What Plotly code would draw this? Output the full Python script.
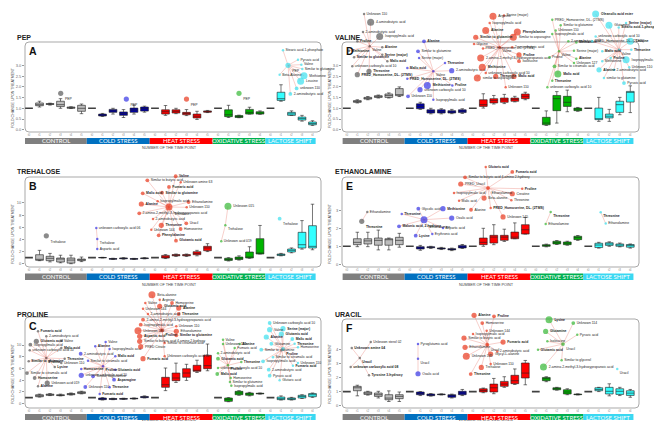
import plotly.graph_objects as go

# ---------------------------------------------------------------- data
CONDITIONS = ["CONTROL", "COLD STRESS", "HEAT STRESS", "OXIDATIVE STRESS", "LACTOSE SHIFT"]
N_PER_COND = [6, 6, 6, 5, 5]
TIME_LABELS = ["t0", "t1", "t2", "t3", "t4", "t5",
               "t0", "t1", "t2", "t3", "t4", "t5",
               "t0", "t1", "t2", "t3", "t4", "t5",
               "t0", "t1", "t2", "t3", "t4",
               "t0", "t1", "t2", "t3", "t4"]

# box statistics (lower whisker, q1, median, q3, upper whisker) per time point
A_LO = [1, 1.06, 1.15, 1.0, 0.99, 0.75, 1, 0.62, 0.73, 0.57, 0.73, 0.82, 1, 0.67, 0.75, 0.66, 0.48, 0.80, 1, 0.57, 0.56, 0.73, 0.72, 1, 1.33, 0.67, 0.40, 0.20]
A_Q1 = [1, 1.12, 1.18, 1.08, 1.0, 0.86, 1, 0.64, 0.81, 0.67, 0.81, 0.87, 1, 0.73, 0.78, 0.70, 0.55, 0.82, 1, 0.61, 0.57, 0.73, 0.73, 1, 1.37, 0.67, 0.45, 0.23]
A_MED = [1, 1.17, 1.20, 1.17, 1.03, 1.0, 1, 0.68, 0.88, 0.75, 0.92, 0.98, 1, 0.84, 0.86, 0.76, 0.63, 0.84, 1, 0.70, 0.62, 0.81, 0.78, 1, 1.45, 0.74, 0.52, 0.29]
A_Q3 = [1, 1.25, 1.22, 1.33, 1.06, 1.14, 1, 0.73, 0.95, 0.83, 1.01, 1.06, 1, 0.93, 0.93, 0.81, 0.73, 0.88, 1, 0.93, 0.66, 0.95, 0.84, 1, 1.75, 0.81, 0.59, 0.36]
A_HI = [1, 1.33, 1.24, 1.45, 1.07, 1.20, 1, 0.76, 1.0, 0.94, 1.15, 1.10, 1, 1.13, 1.0, 0.94, 0.86, 0.90, 1, 1.14, 0.68, 1.05, 0.88, 1, 2.10, 0.88, 0.67, 0.42]

B_LO = [1, 0.5, 0.3, 0.15, 0.0, 0.35, 1, 0.95, 0.7, 0.75, 0.7, 0.8, 1, 0.85, 1.2, 1.2, 1.3, 2.0, 1, 0.45, 0.6, 0.9, 1.6, 1, 1.3, 1.8, 2.4, 2.3]
B_Q1 = [1, 0.56, 0.5, 0.28, 0.1, 0.5, 1, 0.98, 0.75, 0.82, 0.75, 0.85, 1, 0.93, 1.3, 1.3, 1.48, 2.14, 1, 0.55, 0.7, 0.94, 1.6, 1, 1.35, 1.93, 2.59, 2.59]
B_MED = [1, 0.66, 0.89, 0.77, 0.6, 0.65, 1, 1.0, 0.8, 0.88, 0.8, 0.9, 1, 1.1, 1.4, 1.4, 1.7, 2.6, 1, 0.7, 0.9, 1.05, 1.7, 1, 1.5, 2.2, 3.13, 2.86]
B_Q3 = [1, 1.48, 1.22, 0.94, 0.94, 0.77, 1, 1.03, 0.85, 0.95, 0.84, 0.95, 1, 1.37, 1.5, 1.5, 1.98, 2.87, 1, 0.9, 1.1, 1.93, 4.12, 1, 1.6, 2.42, 5.17, 6.26]
B_HI = [1, 2.2, 1.7, 1.4, 1.4, 1.1, 1, 1.05, 0.9, 1.0, 0.88, 1.0, 1, 1.5, 1.6, 1.6, 2.2, 3.3, 1, 1.0, 1.3, 2.8, 6.3, 1, 1.7, 2.6, 7.1, 9.8]

C_LO = [1, 1.1, 1.35, 1.3, 1.45, 1.65, 1, 0.6, 0.65, 0.7, 0.75, 0.95, 1, 2.2, 3.6, 3.95, 5.3, 5.6, 1, 0.3, 1.4, 1.3, 1.6, 1, 0.6, 0.6, 0.85, 1.05]
C_Q1 = [1, 1.16, 1.4, 1.35, 1.5, 1.7, 1, 0.66, 0.7, 0.74, 0.8, 1.0, 1, 2.77, 3.9, 4.48, 5.5, 5.95, 1, 0.37, 1.5, 1.4, 1.65, 1, 0.66, 0.66, 0.94, 1.16]
C_MED = [1, 1.33, 1.5, 1.4, 1.6, 1.9, 1, 0.8, 0.78, 0.8, 0.85, 1.1, 1, 3.2, 4.36, 5.21, 5.6, 6.47, 1, 0.7, 1.8, 1.65, 1.7, 1, 0.8, 0.8, 1.2, 1.5]
C_Q3 = [1, 1.5, 1.6, 1.5, 1.7, 2.0, 1, 0.94, 0.85, 0.86, 0.9, 1.2, 1, 4.48, 5.21, 5.95, 6.53, 8.24, 1, 0.94, 2.08, 1.8, 1.75, 1, 1.1, 0.95, 1.4, 1.7]
C_HI = [1, 1.6, 1.7, 1.6, 1.8, 2.1, 1, 1.0, 0.9, 0.9, 0.95, 1.3, 1, 6.07, 6.9, 6.7, 7.4, 10.17, 1, 1.0, 2.2, 1.9, 1.8, 1, 1.3, 1.05, 1.5, 1.8]

D_LO = [1, 1.25, 1.40, 1.48, 1.48, 1.55, 1, 0.95, 0.74, 0.74, 0.75, 0.76, 1, 1.01, 1.20, 1.22, 1.30, 1.40, 1, 0.20, 0.31, 0.84, 0.86, 1, 0.39, 0.39, 0.70, 0.80]
D_Q1 = [1, 1.28, 1.43, 1.51, 1.51, 1.59, 1, 0.98, 0.78, 0.78, 0.78, 0.80, 1, 1.09, 1.25, 1.28, 1.33, 1.45, 1, 0.23, 0.89, 1.09, 0.89, 1, 0.47, 0.55, 0.81, 1.29]
D_MED = [1, 1.30, 1.47, 1.54, 1.60, 1.64, 1, 1.09, 0.86, 0.84, 0.83, 0.87, 1, 1.17, 1.36, 1.39, 1.42, 1.56, 1, 0.31, 1.45, 1.28, 0.96, 1, 0.50, 0.63, 1.17, 1.75]
D_Q3 = [1, 1.36, 1.51, 1.59, 1.67, 1.92, 1, 1.21, 0.93, 0.93, 0.89, 0.93, 1, 1.40, 1.45, 1.48, 1.48, 1.67, 1, 0.58, 1.60, 1.56, 1.01, 1, 1.01, 0.73, 1.33, 1.79]
D_HI = [1, 1.40, 1.55, 1.62, 1.72, 2.00, 1, 1.28, 1.00, 0.98, 0.95, 0.98, 1, 1.68, 1.60, 1.65, 1.56, 1.75, 1, 0.88, 1.78, 1.85, 1.04, 1, 1.51, 0.95, 1.51, 2.05]

E_LO = [1, 0.98, 0.98, 0.80, 0.80, 0.95, 1, 0.78, 0.88, 0.82, 0.76, 0.88, 1, 1.00, 1.09, 1.27, 1.42, 1.68, 1, 0.97, 1.10, 1.06, 1.33, 1, 0.90, 1.00, 0.97, 0.90]
E_Q1 = [1, 1.09, 1.13, 1.06, 1.06, 1.09, 1, 0.85, 0.92, 0.85, 0.80, 0.91, 1, 1.09, 1.18, 1.33, 1.42, 1.68, 1, 1.00, 1.13, 1.09, 1.37, 1, 0.93, 1.05, 1.00, 0.95]
E_MED = [1, 1.22, 1.30, 1.33, 1.39, 1.33, 1, 0.91, 0.95, 0.88, 0.83, 0.96, 1, 1.22, 1.51, 1.51, 1.51, 1.92, 1, 1.03, 1.20, 1.17, 1.48, 1, 1.07, 1.13, 1.07, 1.04]
E_Q3 = [1, 1.42, 1.42, 1.46, 1.42, 1.50, 1, 0.98, 0.97, 0.91, 0.87, 1.05, 1, 1.46, 1.61, 1.61, 1.79, 2.20, 1, 1.09, 1.28, 1.24, 1.56, 1, 1.17, 1.20, 1.13, 1.10]
E_HI = [1, 1.78, 1.78, 1.90, 1.46, 1.72, 1, 1.05, 1.00, 0.94, 0.90, 1.10, 1, 2.00, 2.20, 1.95, 2.30, 2.60, 1, 1.12, 1.32, 1.28, 1.60, 1, 1.22, 1.25, 1.18, 1.13]

F_LO = [1, 0.70, 0.75, 0.55, 0.30, 0.30, 1, 0.72, 0.68, 0.76, 0.55, 0.72, 1, 0.92, 0.85, 1.30, 1.50, 1.48, 1, 1.70, 1.10, 0.78, 0.76, 1, 1.00, 0.70, 0.72, 0.60]
F_Q1 = [1, 1.06, 0.80, 0.66, 0.42, 0.50, 1, 0.78, 0.71, 0.78, 0.60, 0.78, 1, 0.97, 0.97, 1.37, 1.56, 1.96, 1, 1.77, 1.13, 0.83, 0.78, 1, 1.06, 0.83, 0.80, 0.73]
F_MED = [1, 1.27, 0.89, 0.78, 0.54, 0.66, 1, 0.87, 0.76, 0.80, 0.71, 0.90, 1, 1.08, 1.27, 1.53, 1.77, 2.31, 1, 1.91, 1.20, 0.97, 0.80, 1, 1.15, 1.02, 1.02, 0.89]
F_Q3 = [1, 1.37, 0.97, 0.90, 0.78, 0.78, 1, 0.97, 0.83, 0.82, 0.78, 1.02, 1, 1.20, 1.53, 1.72, 2.15, 3.02, 1, 2.00, 1.27, 1.13, 0.82, 1, 1.27, 1.30, 1.20, 1.06]
F_HI = [1, 1.45, 1.02, 1.02, 1.05, 0.97, 1, 1.00, 0.86, 0.84, 0.82, 1.15, 1, 1.25, 1.93, 2.05, 2.60, 3.20, 1, 2.05, 1.30, 1.20, 0.84, 1, 1.30, 1.55, 1.30, 1.15]

Y_TICKS_A = [0, 0.5, 1, 1.5, 2, 2.5, 3]
Y_TICKS_B = [0, 2, 4, 6, 8, 10]
Y_TICKS_E = [0, 1, 2, 3]
Y_TICKS_F = [0, 1, 2, 3, 4]

# correlation networks: (condition index, [(label, time point, fold change, node size class, bold), ...]); first node = hub
A_NETS = [
    (0, [("PEP", 4.02, 1.70, 3, False)]),
    (1, [("PEP", 10.27, 1.43, 3, False)]),
    (2, [("PEP", 16.0, 1.43, 3, False)]),
    (3, [("PEP", 21.0, 1.70, 3, False)]),
    (4, [("PEP", 25.67, 3.01, 3, False), ("Stearic acid-1-phosphate", 25.19, 3.71, 1, False),
         ("Pyruvic acid", 26.62, 3.27, 1, False), ("Valine", 26.94, 3.04, 1, False),
         ("Similar to glutamine", 27.03, 2.84, 1, False), ("Methionine", 27.19, 2.52, 4, False),
         ("Leucine", 26.87, 2.26, 4, False), ("unknown 110", 26.49, 1.93, 2, False),
         ("2-aminobutyric acid", 25.89, 1.67, 2, False), ("Beta-Alanine", 24.87, 2.57, 1, False)]),
]
B_NETS = [
    (0, [("Trehalose", 2.65, 4.6, 3, False)]),
    (1, [("Trehalose", 7.5, 4.07, 1, False), ("unknown carboxylic acid 06", 7.41, 5.88, 1, False),
         ("Aspartic acid", 7.5, 2.42, 1, False)]),
    (2, [("Trehalose", 14.33, 9.34, 4, False), ("Valine", 14.97, 14.4, 2, True),
         ("Similar to butyric acid", 12.27, 13.74, 2, False), ("Unknown amine 63", 15.45, 13.41, 1, False),
         ("Fumaric acid", 14.33, 12.64, 2, True), ("Malic acid", 11.83, 11.6, 2, True),
         ("Similar to glutamine", 13.67, 11.7, 2, True), ("Isopropylmalic acid", 13.25, 10.28, 1, False),
         ("Ethanolamine", 16.2, 10.16, 2, False), ("Alanine", 11.7, 9.83, 3, True),
         ("Unknown 110", 16.02, 9.29, 1, False), ("2-amino-2-methyl-3-hydroxypropanoic acid", 11.5, 8.3, 2, False),
         ("2-aminobutyric acid", 12.81, 7.36, 1, False), ("Threonine", 13.6, 6.32, 3, True),
         ("Uracil", 15.98, 6.65, 2, False), ("Unknown 144", 12.65, 5.6, 1, False),
         ("Homoserine", 15.44, 5.72, 2, False), ("Phenylalanine", 13.35, 4.68, 2, True),
         ("Glutamic acid", 15.0, 3.8, 2, True)]),
    (3, [("Trehalose", 19.7, 6.32, 1, False), ("Unknown 015", 19.95, 9.45, 4, False),
         ("Unknown acid 019", 19.31, 3.69, 1, False)]),
    (4, [("Trehalose", 24.87, 7.41, 2, False)]),
]
C_NETS = [
    (0, [("Proline", 2.65, 7.78, 1, True), ("Fumaric acid", 1.86, 12.34, 1, True),
         ("2-aminobutyric acid", 2.65, 11.49, 1, False), ("Valine", 4.08, 10.74, 1, False),
         ("Glutamic acid", 1.7, 10.63, 3, True), ("Isopropylmalic acid", 1.13, 10.05, 2, False),
         ("Malic acid", 4.08, 9.49, 1, True), ("unknown carboxylic acid 10", 1.07, 9.09, 1, False),
         ("Threonine", 4.4, 7.66, 1, True), ("Similar to glutamine", 0.97, 7.21, 1, True),
         ("Unknown 110", 4.08, 6.92, 1, False), ("Lysine", 3.45, 6.24, 1, True),
         ("Similar to citramalic acid", 0.81, 5.21, 2, False), ("Homoserine", 1.54, 4.36, 2, True),
         ("Unknown acid 019", 2.74, 3.5, 3, False), ("Alanine", 1.86, 2.94, 1, True)]),
    (1, [("Proline", 8.05, 6.36, 1, True), ("Valine", 8.3, 10.5, 1, False),
         ("Alanine", 7.31, 9.78, 1, True), ("Isopropylmalic acid", 8.68, 9.32, 1, False),
         ("2-aminobutyric acid", 5.92, 8.51, 2, False), ("Malic acid", 9.22, 8.07, 1, True),
         ("Similar to citramalic acid", 6.62, 7.32, 1, False), ("Homoserine", 5.98, 5.9, 1, True),
         ("Glutamic acid", 9.22, 5.78, 1, True), ("unknown carboxylic acid 10", 5.98, 4.82, 3, False),
         ("Similar to glutamine", 7.1, 4.65, 2, False), ("Asparagine", 9.1, 4.07, 2, True),
         ("Unknown 110", 6.36, 2.82, 2, False), ("Threonine", 8.68, 2.77, 1, True),
         ("Fumaric acid", 7.73, 1.62, 1, True)]),
    (2, [("Proline", 13.67, 12.5, 2, True), ("Beta-alanine", 12.71, 18.6, 4, False),
         ("Arginine", 13.45, 17.74, 1, False), ("Valine", 12.08, 17.18, 1, False),
         ("Homoserine", 14.62, 17.18, 2, False), ("Unknown 144", 11.86, 16.2, 1, False),
         ("Glutamic acid", 13.45, 16.62, 3, True), ("Alanine", 15.26, 16.32, 3, True),
         ("Threonine", 15.26, 15.3, 2, True), ("2-aminobutyric acid", 12.33, 15.3, 1, False),
         ("2-amino-2-methyl-3-hydroxypropanoic acid", 11.86, 14.33, 2, False),
         ("Isopropylmalic acid", 11.64, 13.47, 2, False), ("Unknown 110", 15.03, 13.2, 1, False),
         ("Unknown 180", 11.38, 12.44, 4, False), ("Ethanolamine", 15.03, 12.34, 3, False),
         ("Similar to glutamine", 15.03, 11.66, 2, True), ("Aspartic acid", 11.54, 11.49, 3, True),
         ("Similar to butyric acid 4-amino 2-hydroxy", 11.54, 10.63, 3, False),
         ("Similar to citramalic acid", 13.92, 10.34, 1, False), ("PRED Citrate", 11.64, 9.71, 3, False),
         ("Unknown carboxylic acid 10", 13.92, 8.07, 1, False), ("Fumaric acid", 11.86, 7.66, 3, True)]),
    (3, [("Proline", 19.95, 6.53, 1, True), ("Valine", 19.48, 10.9, 1, False),
         ("Unknown 110", 19.48, 10.17, 1, False), ("Alanine", 21.07, 10.17, 1, True),
         ("Fumaric acid", 20.59, 9.49, 1, False), ("2-aminobutyric acid", 19.0, 8.58, 1, False),
         ("Glutamic acid", 19.0, 7.66, 2, True), ("Threonine", 21.22, 7.09, 1, True),
         ("unknown carboxylic acid 10", 19.0, 6.07, 1, False), ("Malic acid", 18.93, 5.04, 2, True),
         ("Homoserine", 20.21, 4.36, 1, False), ("Similar to glutamine", 20.14, 3.68, 1, False),
         ("Isopropylmalic acid", 20.27, 3.04, 1, False)]),
    (4, [("Proline", 25.19, 9.32, 2, True), ("Unknown carboxylic acid 10", 23.92, 13.76, 2, False),
         ("Valine", 23.92, 12.62, 3, False), ("Serine (major)", 25.19, 12.79, 3, True),
         ("Glutamic acid", 25.03, 11.88, 3, True), ("Alanine", 23.6, 11.37, 3, True),
         ("Malic acid", 26.08, 11.03, 2, True), ("Glutamine", 24.08, 10.22, 2, False),
         ("Threonine", 26.3, 10.22, 1, True), ("Similar to glutamine", 23.12, 9.2, 2, False),
         ("Homoserine", 26.62, 9.6, 1, False), ("Similar to citramalic acid", 24.24, 7.9, 1, False),
         ("Isopropylmalic acid", 23.29, 7.21, 2, False), ("Unknown 110", 26.62, 6.92, 1, False),
         ("Fumaric acid", 26.14, 6.46, 1, True), ("2-aminobutyric acid", 23.83, 5.78, 2, False),
         ("Pyruvic acid", 23.92, 4.75, 2, False), ("Glutaric acid", 24.87, 3.97, 1, False)]),
]
D_NETS = [
    (0, [("Valine", 3.18, 3.9, 1, False), ("Unknown 110", 2.64, 5.41, 1, False),
         ("4-aminobutyric acid", 3.27, 5.02, 4, False), ("2-aminobutyric acid", 2.54, 4.57, 1, False),
         ("Isopropylmalic acid", 4.13, 4.36, 4, False), ("Proline", 2.0, 4.13, 1, True),
         ("Alanine", 4.38, 3.85, 1, True), ("Methionine", 1.21, 3.69, 1, True),
         ("Similar to glutamine", 1.69, 3.38, 1, True), ("Serine (major)", 4.38, 3.5, 1, True),
         ("Malic acid", 4.86, 3.2, 1, True), ("unknown carboxylic acid 10", 1.52, 2.96, 1, False),
         ("Threonine", 3.11, 2.73, 3, True), ("PRED_Homoserine, DL- (2TMS)", 2.0, 2.57, 3, True)]),
    (1, [("Valine", 9.24, 2.73, 1, False), ("Alanine", 8.35, 4.13, 2, True),
         ("Similar to glutamine", 7.78, 3.66, 2, False), ("Serine (major)", 7.88, 3.35, 1, False),
         ("Threonine", 10.35, 3.12, 1, True), ("Malic acid", 6.76, 2.88, 1, True),
         ("2-aminobutyric acid", 10.99, 2.76, 3, False), ("PRED_Homoserine, DL- (2TMS)", 6.76, 2.38, 1, True),
         ("Proline", 11.05, 2.07, 1, True), ("Methionine", 8.67, 2.07, 4, True),
         ("unknown carboxylic acid 10", 7.97, 1.87, 3, False), ("Unknown 110", 6.83, 1.56, 2, False),
         ("Isopropylmalic acid", 9.24, 1.4, 1, False)]),
    (2, [("Valine", 15.56, 3.85, 1, False), ("Serine (major)", 15.97, 5.34, 1, False),
         ("Arginine", 14.92, 5.30, 4, False), ("Isopropylmalic acid", 14.61, 4.99, 1, False),
         ("Alanine", 14.23, 4.63, 4, True), ("Phenylalanine", 17.24, 4.57, 4, True),
         ("Similar to glutamine", 13.28, 4.32, 3, True), ("Similar to asparagine", 16.86, 4.32, 4, False),
         ("Glycine", 13.11, 4.0, 1, False), ("PRED_Homoserine, DL- (2TMS)", 13.97, 3.79, 1, False),
         ("2-aminobutyric acid", 16.76, 3.85, 1, False), ("Proline", 17.4, 3.5, 3, True),
         ("2-amino-2-methyl-3-hydroxypropanoic acid", 13.75, 3.35, 4, False),
         ("Isoleucine", 17.4, 3.2, 2, False), ("Methionine", 13.9, 2.92, 4, True),
         ("unknown carboxylic acid 10", 14.23, 2.65, 1, False), ("Threonine", 15.18, 2.49, 3, True),
         ("Malic acid", 16.92, 2.49, 3, True), ("similar to asparagine", 13.43, 2.42, 4, False),
         ("Unknown 110", 16.13, 1.98, 1, False)]),
    (3, [("Valine", 21.21, 3.66, 1, False), ("PRED_Homoserine, DL- (2TMS)", 20.57, 5.14, 1, False),
         ("Similar to glutamine", 21.37, 4.88, 1, False), ("Unknown 110", 20.89, 4.63, 1, False),
         ("Isopropylmalic acid", 20.57, 4.47, 1, False), ("2-aminobutyric acid", 22.1, 4.13, 1, False),
         ("Methionine", 22.86, 4.08, 1, True), ("Serine (major)", 22.64, 3.69, 1, False),
         ("Alanine", 22.86, 3.32, 1, True), ("Unknown 127", 22.64, 3.12, 1, False),
         ("Proline", 20.3, 3.38, 1, False), ("Similar to citramalic acid", 20.78, 2.96, 2, False),
         ("Malic acid", 21.1, 2.6, 4, True), ("Threonine", 20.57, 2.29, 1, True),
         ("unknown carboxylic acid 10", 20.1, 1.98, 1, False)]),
    (4, [("Valine", 26.92, 3.74, 1, False), ("Oleanolic acid ester", 24.7, 5.41, 4, True),
         ("Glutamine", 25.97, 4.88, 4, False), ("Serine (major)", 27.6, 4.99, 1, True),
         ("Stearic acid-1-phosphate", 26.9, 4.78, 1, True), ("unknown carboxylic acid 10", 24.7, 4.36, 1, False),
         ("PRED_Homoserine, DL- (2TMS)", 24.38, 4.13, 1, False), ("Leucine", 28.0, 4.13, 4, True),
         ("Malic acid", 25.33, 3.66, 1, True), ("Threonine", 28.1, 3.74, 1, True),
         ("Isopropylmalic acid", 27.6, 3.27, 4, False), ("Methionine", 25.33, 3.2, 1, False),
         ("Proline", 26.13, 3.35, 1, True), ("Alanine", 25.02, 2.8, 3, True),
         ("2-aminobutyric acid", 26.45, 2.8, 1, False), ("Unknown 110", 27.9, 2.92, 1, False),
         ("similar to glutamine", 25.49, 2.42, 1, False), ("Pyruvic acid", 27.4, 2.18, 2, False)]),
]
E_NETS = [
    (0, [("Threonine", 2.42, 2.39, 3, True), ("Ethanolamine", 2.95, 2.9, 1, False)]),
    (1, [("Ethanolamine", 8.35, 2.48, 4, False), ("Glycolic acid", 7.81, 3.09, 2, False),
         ("Methionine", 10.16, 3.09, 3, True), ("Threonine", 6.23, 2.8, 1, True),
         ("Oxalic acid", 10.99, 2.57, 3, False), ("Malonic acid, 2-hydroxy", 5.97, 2.11, 2, True),
         ("Aspartic acid", 10.16, 2.02, 1, False), ("Erythronic acid", 9.14, 1.68, 1, False),
         ("Lysine", 7.56, 1.59, 2, True)]),
    (2, [("Ethanolamine", 14.45, 4.24, 2, False), ("Glutaric acid", 14.23, 5.41, 1, True),
         ("Fumaric acid", 16.76, 5.13, 2, True), ("Similar to butyric acid 4-amino 2-hydroxy", 12.26, 4.83, 2, False),
         ("PRED_Uracil", 11.85, 4.46, 3, False), ("Proline", 17.71, 4.2, 1, True),
         ("Isopropylmalic acid", 11.21, 3.96, 1, False), ("Creatine", 16.76, 3.92, 3, False),
         ("Malic acid", 11.69, 3.53, 1, False), ("Threonine", 16.67, 3.56, 1, False),
         ("Beta-alanine", 14.07, 3.68, 3, False), ("Alanine", 12.83, 3.03, 2, False),
         ("PRED_Homoserine, DL- (2TMS)", 14.7, 3.13, 1, True), ("Unknown 145", 15.88, 2.63, 3, False)]),
    (3, [("Threonine", 20.42, 2.9, 1, True), ("Ethanolamine", 19.94, 2.24, 1, False)]),
    (4, [("Threonine", 25.18, 2.89, 1, True), ("Ethanolamine", 25.66, 2.26, 1, False)]),
]
F_NETS = [
    (0, [("Uracil", 2.23, 3.37, 1, True), ("Unknown sterol 02", 3.28, 4.5, 1, False),
         ("Unknown amine 04", 1.47, 4.08, 1, True), ("unknown carboxylic acid 08", 1.37, 2.74, 1, True),
         ("Tyrosine 3-hydroxy", 3.11, 2.15, 1, True)]),
    (1, [("Uracil", 7.78, 3.32, 1, False), ("Pyroglutamic acid", 7.78, 4.36, 1, False),
         ("Oxalic acid", 7.78, 2.26, 3, False)]),
    (2, [("Uracil", 14.38, 4.31, 2, False), ("Alanine", 13.12, 6.39, 3, True),
         ("Proline", 15.02, 6.32, 2, True), ("Homoserine", 13.9, 5.84, 2, False),
         ("Unknown 144", 14.32, 5.3, 1, False), ("Isopropylmalic acid", 13.02, 5.07, 1, False),
         ("Similar to butyric acid", 12.16, 4.78, 3, False), ("Fumaric acid", 15.88, 4.5, 3, True),
         ("Ethanolamine", 12.26, 4.13, 3, False), ("2-aminobutyric acid", 15.33, 3.84, 1, False),
         ("Unknown 145", 12.38, 3.49, 4, False), ("Glycyl-L-alanine", 14.7, 3.65, 3, False),
         ("Unknown 110", 14.7, 2.95, 1, False), ("Trehalose", 13.81, 2.71, 3, False),
         ("Threonine", 12.8, 2.24, 2, True)]),
    (3, [("Uracil", 21.59, 4.36, 2, False), ("Lysine", 20.26, 6.08, 4, True),
         ("Unknown 114", 22.57, 5.84, 2, False), ("Glutamine", 19.94, 5.25, 3, True),
         ("Pyruvic acid", 22.95, 5.02, 1, False), ("Isoleucine", 20.1, 4.55, 1, False),
         ("Glutamic acid", 19.21, 3.96, 1, True), ("Similar to glycerol", 21.46, 3.21, 1, False),
         ("2-amino-2-methyl-3-hydroxypropanoic acid", 19.73, 2.74, 4, False)]),
    (4, [("Uracil", 26.76, 2.59, 1, False)]),
]

# ---------------------------------------------------------------- style / layout
W, H = 662, 421
BOX_FILL = ["#bdbdbd", "#0000a8", "#ff0000", "#00b400", "#33ffff"]
BAR_FILL = ["#7f7f7f", "#0070c0", "#ff0000", "#00b050", "#3ad8f2"]
NODE_COL = ["#5a5a5a", "#3535e6", "#e8381c", "#35b835", "#3ae0ee"]
NODE_PX = {1: 2.5, 2: 3.8, 3: 5.2, 4: 7.0}

PANELS = [
    dict(title="PEP", letter="A", stats=(A_LO, A_Q1, A_MED, A_Q3, A_HI), ticks=Y_TICKS_A, fmt=".1f",
         frame=(17, 313, 34, 124), yr=(-0.107, 4.098), xr=(0.62, 28.81), top=0, row=0, col=0, nets=A_NETS),
    dict(title="VALINE", letter="D", stats=(D_LO, D_Q1, D_MED, D_Q3, D_HI), ticks=Y_TICKS_A, fmt=".1f",
         frame=(334, 631, 34, 124), yr=(-0.107, 4.098), xr=(0.54, 28.83), top=0, row=0, col=1, nets=D_NETS),
    dict(title="TREHALOSE", letter="B", stats=(B_LO, B_Q1, B_MED, B_Q3, B_HI), ticks=Y_TICKS_B, fmt="d",
         frame=(17, 313, 169, 259), yr=(-0.54, 14.28), xr=(0.62, 28.81), top=140, row=1, col=0, nets=B_NETS),
    dict(title="ETHANOLAMINE", letter="E", stats=(E_LO, E_Q1, E_MED, E_Q3, E_HI), ticks=Y_TICKS_E, fmt="d",
         frame=(334, 631, 169, 259), yr=(-0.15, 4.85), xr=(0.54, 28.83), top=140, row=1, col=1, nets=E_NETS),
    dict(title="PROLINE", letter="C", stats=(C_LO, C_Q1, C_MED, C_Q3, C_HI), ticks=Y_TICKS_B, fmt="d",
         frame=(17, 313, 309, 400), yr=(-0.77, 14.79), xr=(0.62, 28.81), top=280, row=2, col=0, nets=C_NETS),
    dict(title="URACIL", letter="F", stats=(F_LO, F_Q1, F_MED, F_Q3, F_HI), ticks=Y_TICKS_F, fmt="d",
         frame=(334, 631, 311, 400), yr=(-0.16, 6.13), xr=(0.54, 28.83), top=280, row=2, col=1, nets=F_NETS),
]
ROW_TITLE_Y = [29, 164, 306]
ROW_BAR = [(130, 136), (265.5, 272), (406, 412)]
ROW_XTITLE_Y = [140, 277, 413.5]
ROW_YTITLE_Y = [90, 226, 366]
BAR_EDGES = [0.6, 6.5, 12.5, 18.5, 23.5, 28.3]

def px(y):
    return 1 - y / H

def rounded_rect(l, r, t, b, rad=4):
    x0, x1, y0, y1 = l / W, r / W, px(b), px(t)
    rx, ry = rad / W, rad / H
    return (f"M {x0 + rx} {y1} L {x1 - rx} {y1} Q {x1} {y1} {x1} {y1 - ry} "
            f"L {x1} {y0 + ry} Q {x1} {y0} {x1 - rx} {y0} L {x0 + rx} {y0} "
            f"Q {x0} {y0} {x0} {y0 + ry} L {x0} {y1 - ry} Q {x0} {y1} {x0 + rx} {y1} Z")

fig = go.Figure()
axes = {}
shapes = []
annos = []
FONT = "Liberation Sans"

def key(kind, k):
    return f"{kind}axis" if k == 1 else f"{kind}axis{k}"

def ref(kind, k):
    return kind if k == 1 else f"{kind}{k}"

positions = list(range(1, 29))
for i, p in enumerate(PANELS):
    km, ko = 2 * i + 1, 2 * i + 2
    l, r, t, b = p["frame"]
    xdom = [l / W, r / W]
    ydom = [px(b), px(t)]
    y0, y1 = p["yr"]
    # overlay (network) axis: same scale, extended to the top of the panel region
    y1e = y0 + (y1 - y0) * (b - p["top"]) / (b - t)
    axes[key("x", km)] = dict(domain=xdom, range=list(p["xr"]), anchor=ref("y", km),
                              tickmode="array", tickvals=positions, ticktext=TIME_LABELS,
                              tickfont=dict(size=3, color="#8a8a8a", family=FONT), ticks="",
                              showgrid=False, zeroline=False, showline=False, fixedrange=True)
    axes[key("y", km)] = dict(domain=ydom, range=[y0, y1], anchor=ref("x", km),
                              tickmode="array", tickvals=p["ticks"], tickformat=p["fmt"],
                              tickfont=dict(size=4, color="#6a6a6a", family=FONT),
                              ticks="outside", ticklen=2, tickwidth=0.5, tickcolor="#9a9a9a",
                              showgrid=False, zeroline=False, showline=False, fixedrange=True)
    axes[key("x", ko)] = dict(domain=xdom, range=list(p["xr"]), anchor=ref("y", ko), visible=False,
                              fixedrange=True)
    axes[key("y", ko)] = dict(domain=[px(b), px(p["top"])], range=[y0, y1e], anchor=ref("x", ko),
                              visible=False, fixedrange=True)
    xm, ym, xo, yo = ref("x", km), ref("y", km), ref("x", ko), ref("y", ko)

    # frame
    shapes.append(dict(type="path", xref="paper", yref="paper", path=rounded_rect(l, r, t, b),
                       line=dict(color="#a9a9a9", width=1), fillcolor="rgba(0,0,0,0)", layer="below"))

    # boxes
    lo, q1, med, q3, hi = p["stats"]
    start = 0
    for c, n in enumerate(N_PER_COND):
        idx = list(range(start, start + n))
        start += n
        flat = [j for j in idx if lo[j] == q1[j] == med[j] == q3[j] == hi[j]]
        var = [j for j in idx if j not in flat]
        fig.add_trace(go.Box(
            x=[positions[j] for j in var], q1=[q1[j] for j in var], median=[med[j] for j in var],
            q3=[q3[j] for j in var], lowerfence=[lo[j] for j in var], upperfence=[hi[j] for j in var],
            orientation="v",
            fillcolor=BOX_FILL[c], line=dict(color="#1e1e1e", width=0.6), width=0.74, whiskerwidth=0.45,
            boxpoints=False, xaxis=xm, yaxis=ym, hoverinfo="skip", showlegend=False))
        if flat:
            fig.add_trace(go.Box(
                x=[positions[j] for j in flat], q1=[q1[j] for j in flat], median=[med[j] for j in flat],
                q3=[q3[j] for j in flat], lowerfence=[lo[j] for j in flat], upperfence=[hi[j] for j in flat],
                orientation="v",
                fillcolor="#404040", line=dict(color="#404040", width=1.6), width=0.74,
                boxpoints=False, xaxis=xm, yaxis=ym, hoverinfo="skip", showlegend=False))

    # condition bar
    bt, bb = ROW_BAR[p["row"]]
    for c, name in enumerate(CONDITIONS):
        shapes.append(dict(type="rect", xref=xm, yref="paper", x0=BAR_EDGES[c], x1=BAR_EDGES[c + 1],
                           y0=px(bb), y1=px(bt), fillcolor=BAR_FILL[c], line=dict(width=0)))
        annos.append(dict(x=(BAR_EDGES[c] + BAR_EDGES[c + 1]) / 2, y=px((bt + bb) / 2), xref=xm, yref="paper",
                          text=name, showarrow=False, font=dict(size=6, color="white", family="Lato"),
                          xanchor="center", yanchor="middle"))

    # networks
    for c, nodes in p["nets"]:
        hub = nodes[0]
        if len(nodes) > 1:
            lx, ly = [], []
            for nd in nodes[1:]:
                lx += [hub[1], nd[1], None]
                ly += [hub[2], nd[2], None]
            fig.add_trace(go.Scatter(x=lx, y=ly, mode="lines", xaxis=xo, yaxis=yo,
                                     line=dict(color="rgba(232,120,110,0.7)", width=0.5),
                                     hoverinfo="skip", showlegend=False, cliponaxis=False))
        fig.add_trace(go.Scatter(
            x=[nd[1] for nd in nodes], y=[nd[2] for nd in nodes], mode="markers+text",
            text=[(f"<b>{nd[0]}</b>" if nd[4] else nd[0]) for nd in nodes],
            textposition=["bottom right"] + ["middle right"] * (len(nodes) - 1),
            textfont=dict(size=3.4, color="#262626", family=FONT),
            marker=dict(size=[NODE_PX[nd[3]] for nd in nodes], color=NODE_COL[c], line=dict(width=0)),
            xaxis=xo, yaxis=yo, hoverinfo="skip", showlegend=False, cliponaxis=False))

    # texts
    tx = 7 if p["col"] == 0 else 325
    annos.append(dict(x=tx / W, y=px(ROW_TITLE_Y[p["row"]]), xref="paper", yref="paper", text=f"<b>{p['title']}</b>",
                      showarrow=False, xanchor="left", yanchor="middle",
                      font=dict(size=7, color="#222", family=FONT)))
    annos.append(dict(x=(l + 1.5) / W, y=px(t + 9), xref="paper", yref="paper", text=f"<b>{p['letter']}</b>",
                      showarrow=False, xanchor="left", yanchor="middle",
                      font=dict(size=10.5, color="#111", family=FONT)))
    annos.append(dict(x=((l + r) / 2 - 4) / W, y=px(ROW_XTITLE_Y[p["row"]]), xref="paper", yref="paper",
                      text="NUMBER OF THE TIME POINT", showarrow=False, xanchor="center", yanchor="middle",
                      borderpad=0, font=dict(size=3.8, color="#444", family=FONT)))
    yx = 5 if p["col"] == 0 else 322
    annos.append(dict(x=yx / W, y=px(ROW_YTITLE_Y[p["row"]]), xref="paper", yref="paper",
                      text="FOLD CHANGE UPON TREATMENT", showarrow=False, textangle=-90,
                      xanchor="center", yanchor="middle", font=dict(size=3.6, color="#444", family=FONT)))

fig.update_layout(width=W, height=H, margin=dict(l=0, r=0, t=0, b=0), paper_bgcolor="white",
                  plot_bgcolor="rgba(0,0,0,0)", showlegend=False, boxmode="overlay",
                  shapes=shapes, annotations=annos, **axes)
fig.write_html("out.html")
